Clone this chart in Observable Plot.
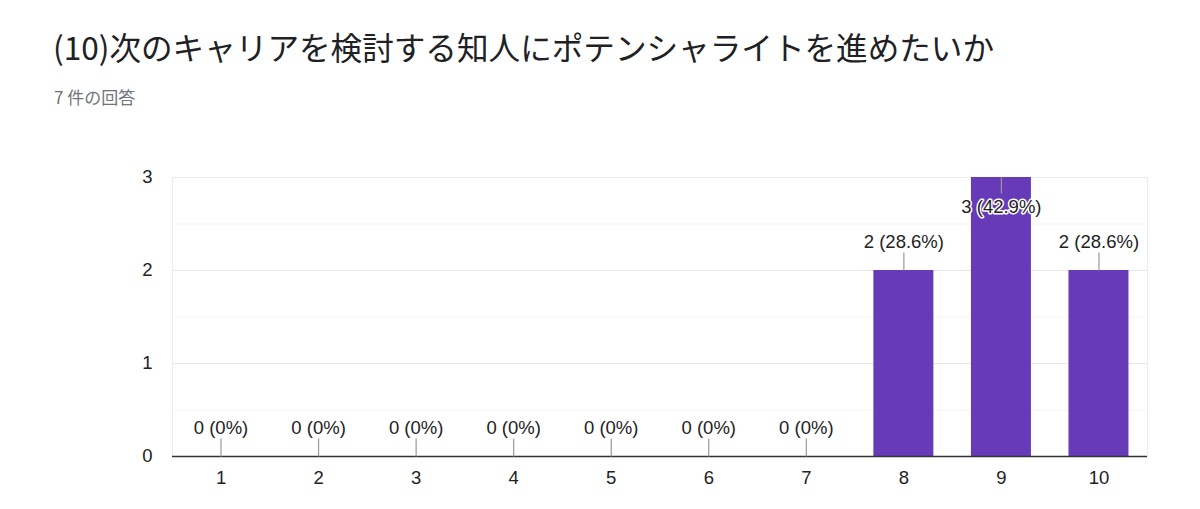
<!DOCTYPE html>
<html><head><meta charset="utf-8">
<script src="https://cdn.jsdelivr.net/npm/d3@7"></script>
<script src="https://cdn.jsdelivr.net/npm/@observablehq/plot@0.6"></script>
<style>
body{margin:0;background:#fff;}
#head{position:relative;height:120px;}
#title{position:absolute;left:53px;top:24px;font:31.6px/44px "Noto Sans CJK JP","Noto Sans",sans-serif;color:#202124;white-space:nowrap;}
#sub{position:absolute;left:54px;top:84px;font:17px/26px "Noto Sans CJK JP","Noto Sans",sans-serif;color:#70757a;white-space:nowrap;}
</style></head><body>
<div id="head"><div id="title">(10)次のキャリアを検討する知人にポテンシャライトを進めたいか</div><div id="sub">7 件の回答</div></div>
<div id="chart"></div>
<script>
const categories = ["1","2","3","4","5","6","7","8","9","10"];
const counts = [0,0,0,0,0,0,0,2,3,2];
const total = 7;
const yTicks = [0,1,2,3];
const yMinor = [0.5,1.5,2.5];

const data = categories.map((c,i)=>{
  const v = counts[i];
  const pct = +(v/total*100).toFixed(1);
  return {cat:c, count:v, label:`${v} (${pct}%)`};
});
const yMax = d3.max(yTicks);
const above = data.filter(d=>d.count<yMax);
const inside = data.filter(d=>d.count>=yMax);

const up = {draw(ctx){ctx.moveTo(0,0); ctx.lineTo(0,-18);}};
const down = {draw(ctx){ctx.moveTo(0,0); ctx.lineTo(0,16);}};

const chart = Plot.plot({
  width:1200, height:389,
  marginTop:57, marginBottom:53, marginLeft:172, marginRight:53,
  style:{fontFamily:"'Liberation Sans', Arial, sans-serif", fontSize:"18.5px", color:"#222", background:"#fff"},
  x:{domain:categories, paddingInner:0.385, paddingOuter:0.19, round:false, label:null, tickSize:0, tickPadding:14},
  y:{domain:[0,3], ticks:yTicks, label:null, tickSize:0, tickPadding:20, tickFormat:d3.format("d")},
  marks:[
    Plot.ruleY(yMinor,{stroke:"#f4f4f4"}),
    Plot.ruleY(yTicks.filter(t=>t>0),{stroke:"#e8e8e8"}),
    Plot.frame({stroke:"#ececec"}),
    Plot.barY(data,{x:"cat", y:"count", fill:"#673ab7"}),
    Plot.ruleY([0],{stroke:"#333", strokeWidth:1.5}),
    Plot.dot(above,{x:"cat", y:"count", symbol:up, stroke:"#999", fill:"none", strokeWidth:1.2}),
    Plot.dot(inside,{x:"cat", y:"count", symbol:down, stroke:"#999", fill:"none", strokeWidth:1.2}),
    Plot.text(above,{x:"cat", y:"count", text:"label", dy:-28, fill:"#222", stroke:"white", strokeWidth:3, paintOrder:"stroke"}),
    Plot.text(inside,{x:"cat", y:"count", text:"label", dy:30, fill:"#222", stroke:"white", strokeWidth:3, paintOrder:"stroke"})
  ]
});
document.getElementById("chart").appendChild(chart);
</script>
</body></html>
